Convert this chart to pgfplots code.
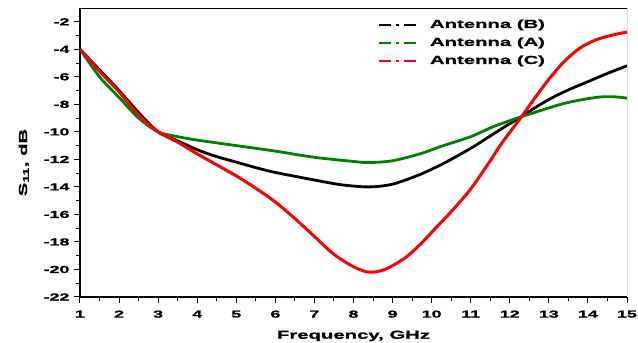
\documentclass[border=0pt]{standalone}
\usepackage{pgfplots}
\pgfplotsset{compat=1.18}
\usepackage{pgfplotstable}
\usepackage{fontspec}
\setmainfont{Liberation Sans}[FakeStretch=1.75, BoldFeatures={FakeBold=1.2}]

\pgfplotstableread{
f v
1 -4.0
1.5 -5.5
2 -7.0
2.5 -8.6
3 -10.0
3.5 -10.65
4 -11.3
4.5 -11.8
5 -12.2
5.5 -12.6
6 -12.95
7 -13.5
7.7 -13.85
8.4 -14.0
9 -13.8
9.7 -13.1
10.3 -12.3
11 -11.2
11.5 -10.3
12 -9.4
12.3 -8.9
12.7 -8.15
13.1 -7.5
13.5 -6.95
14 -6.35
14.5 -5.75
15 -5.2
}\antB

\pgfplotstableread{
f v
1 -4.0
1.5 -6.0
2 -7.5
2.5 -9.0
3 -10.0
3.5 -10.35
4 -10.6
4.5 -10.8
5 -11.0
6 -11.4
7 -11.85
8 -12.15
8.4 -12.23
9 -12.1
9.7 -11.6
10.3 -11.0
11 -10.35
11.6 -9.6
12.3 -8.9
13.37 -7.95
14.2 -7.5
14.65 -7.45
15 -7.55
}\antA

\pgfplotstableread{
f v
1 -4.0
1.5 -5.6
2 -7.1
2.5 -8.8
3 -10.0
3.5 -10.75
4 -11.6
4.5 -12.4
5 -13.2
5.5 -14.1
6 -15.1
6.5 -16.3
7 -17.6
7.5 -18.9
8 -19.8
8.4 -20.2
8.8 -20.0
9.3 -19.2
9.7 -18.2
10.1 -17.0
10.5 -15.8
11 -14.15
11.5 -12.1
11.8 -10.8
12.3 -8.9
12.6 -7.7
12.94 -6.4
13.37 -4.95
13.8 -3.9
14.22 -3.3
14.65 -2.95
15 -2.75
}\antC

\definecolor{cgreen}{RGB}{0,128,0}
\definecolor{cred}{RGB}{255,0,0}

\begin{document}
\begin{tikzpicture}
\path[use as bounding box] (-80pt,-46pt) rectangle (558pt,297pt);
\begin{axis}[
  scale only axis,
  width=547pt, height=289pt,
  xmin=1, xmax=15, ymin=-22, ymax=-1,
  xtick={1,2,...,15},
  ytick={-22,-20,...,-2},
  minor x tick num=1, minor y tick num=1,
  axis lines*=left,
  axis line style={line width=1.4pt, -},
  tick align=outside,
  major tick length=6pt, minor tick length=3.5pt,
  every tick/.style={line width=1pt, black},
  /pgf/number format/assume math mode=true,
  ticklabel style={font=\fontsize{10.2}{12}\selectfont\bfseries},
  xticklabel style={yshift=-4pt},
  yticklabel style={xshift=-1pt},
  label style={font=\fontsize{11.6}{14}\selectfont\bfseries},
  xlabel={Frequency, GHz},
  ylabel={S\textsubscript{11}, dB},
  xlabel style={yshift=-6pt},
  ylabel style={yshift=8pt, xshift=-10pt},
  legend style={at={(0.54,0.968)}, anchor=north west, draw=none, fill=none,
    font=\fontsize{11.6}{14}\selectfont\bfseries,
    nodes={inner sep=0pt, text height=8.5pt, text depth=2.5pt},
    row sep=7pt},
  legend cell align=left,
  legend image code/.code={
    \draw[line width=1.8pt, dash pattern=on 12pt off 5pt on 3pt off 5pt on 12pt off 10pt] (0pt,0pt) -- (44pt,0pt);
    \path (49pt,0pt);
  },
]
\addplot[black, line width=2.8pt, smooth] table[x=f, y=v] {\antB};
\addlegendentry{Antenna (B)}
\addplot[cgreen, line width=2.8pt, smooth] table[x=f, y=v] {\antA};
\addlegendentry{Antenna (A)}
\addplot[cred, line width=3pt, smooth] table[x=f, y=v] {\antC};
\addlegendentry{Antenna (C)}
\draw[line width=0.8pt] (rel axis cs:0,1) -- (rel axis cs:1,1) -- (rel axis cs:1,0);
\end{axis}
\end{tikzpicture}
\end{document}
